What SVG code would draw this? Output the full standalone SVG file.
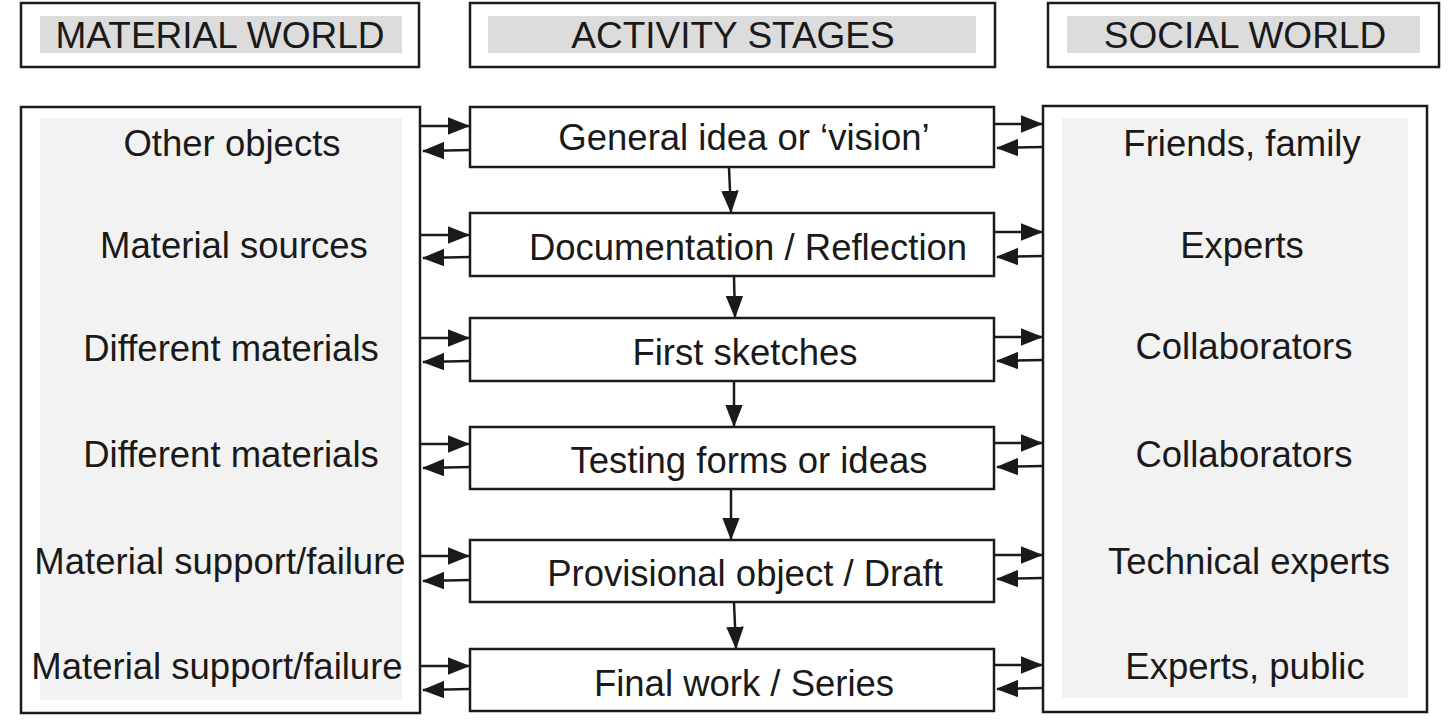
<svg xmlns="http://www.w3.org/2000/svg" width="1454" height="722" viewBox="0 0 1454 722">
<style>
.box{fill:#fff;stroke:#1a1a1a;stroke-width:2.5}
.g1{fill:#dcdcdc}.g2{fill:#f2f2f2}
.h{font-family:"Liberation Sans",Arial,sans-serif;font-size:37px;fill:#1a1a1a;text-anchor:middle}
.t{font-family:"Liberation Sans",Arial,sans-serif;font-size:36.5px;fill:#1a1a1a;text-anchor:middle}
.c{stroke:#1a1a1a;stroke-width:2.5;fill:none;marker-end:url(#a)}
</style>
<defs><marker id="a" markerWidth="9" markerHeight="7" refX="8.5" refY="3.5" orient="auto" markerUnits="strokeWidth"><path d="M0,0L9,3.5L0,7z" fill="#1a1a1a"/></marker></defs>
<g id="h1"><rect class="box" x="21" y="3" width="398" height="64"/><rect class="g1" x="40" y="16" width="362" height="37"/><text class="h" x="220" y="48">MATERIAL WORLD</text></g>
<g id="h2"><rect class="box" x="470" y="3" width="525" height="64"/><rect class="g1" x="488" y="16" width="488" height="37"/><text class="h" x="733" y="48">ACTIVITY STAGES</text></g>
<g id="h3"><rect class="box" x="1048" y="3" width="391" height="64"/><rect class="g1" x="1067" y="16" width="353" height="37"/><text class="h" x="1245" y="48">SOCIAL WORLD</text></g>
<g id="material"><rect class="box" x="21" y="107" width="399" height="606"/><rect class="g2" x="40" y="118" width="362" height="582"/>
<text class="t" x="232" y="156">Other objects</text>
<text class="t" x="234" y="258">Material sources</text>
<text class="t" x="231" y="361">Different materials</text>
<text class="t" x="231" y="467">Different materials</text>
<text class="t" x="220" y="574">Material support/failure</text>
<text class="t" x="217" y="679">Material support/failure</text></g>
<g id="social"><rect class="box" x="1043" y="106" width="384" height="606"/><rect class="g2" x="1062" y="118" width="346" height="580"/>
<text class="t" x="1242" y="156">Friends, family</text>
<text class="t" x="1242" y="258">Experts</text>
<text class="t" x="1244" y="359">Collaborators</text>
<text class="t" x="1244" y="467">Collaborators</text>
<text class="t" x="1249" y="574">Technical experts</text>
<text class="t" x="1245" y="679">Experts, public</text></g>
<g id="s1"><rect class="box" x="470" y="107" width="524" height="60"/><text class="t" x="744" y="150">General idea or ‘vision’</text></g>
<g id="s2"><rect class="box" x="470" y="213" width="524" height="63"/><text class="t" x="748" y="260">Documentation / Reflection</text></g>
<g id="s3"><rect class="box" x="470" y="318" width="524" height="63"/><text class="t" x="745" y="365">First sketches</text></g>
<g id="s4"><rect class="box" x="470" y="427" width="524" height="62"/><text class="t" x="749" y="473">Testing forms or ideas</text></g>
<g id="s5"><rect class="box" x="470" y="540" width="524" height="62"/><text class="t" x="745" y="586">Provisional object / Draft</text></g>
<g id="s6"><rect class="box" x="470" y="649" width="524" height="62"/><text class="t" x="744" y="696">Final work / Series</text></g>
<g id="connectors">
<path class="c" d="M421,126H469"/><path class="c" d="M470,150L423,151"/>
<path class="c" d="M421,235H469"/><path class="c" d="M470,257L423,258"/>
<path class="c" d="M421,338H469"/><path class="c" d="M470,361L423,362"/>
<path class="c" d="M421,444H469"/><path class="c" d="M470,467L423,468"/>
<path class="c" d="M421,556H469"/><path class="c" d="M470,580L423,581"/>
<path class="c" d="M421,666H469"/><path class="c" d="M470,689L423,690"/>
<path class="c" d="M995,124H1042"/><path class="c" d="M1043,147L997,148"/>
<path class="c" d="M995,232H1042"/><path class="c" d="M1043,256L997,257"/>
<path class="c" d="M995,337H1042"/><path class="c" d="M1043,360L997,361"/>
<path class="c" d="M995,443H1042"/><path class="c" d="M1043,466L997,467"/>
<path class="c" d="M995,555H1042"/><path class="c" d="M1043,578L997,579"/>
<path class="c" d="M995,665H1042"/><path class="c" d="M1043,688L997,689"/>
<path class="c" d="M729,168L731,212"/><path class="c" d="M734,277L735,317"/>
<path class="c" d="M734,382L734,426"/><path class="c" d="M731,490L731,539"/>
<path class="c" d="M734,603L736,648"/>
</g>
</svg>
